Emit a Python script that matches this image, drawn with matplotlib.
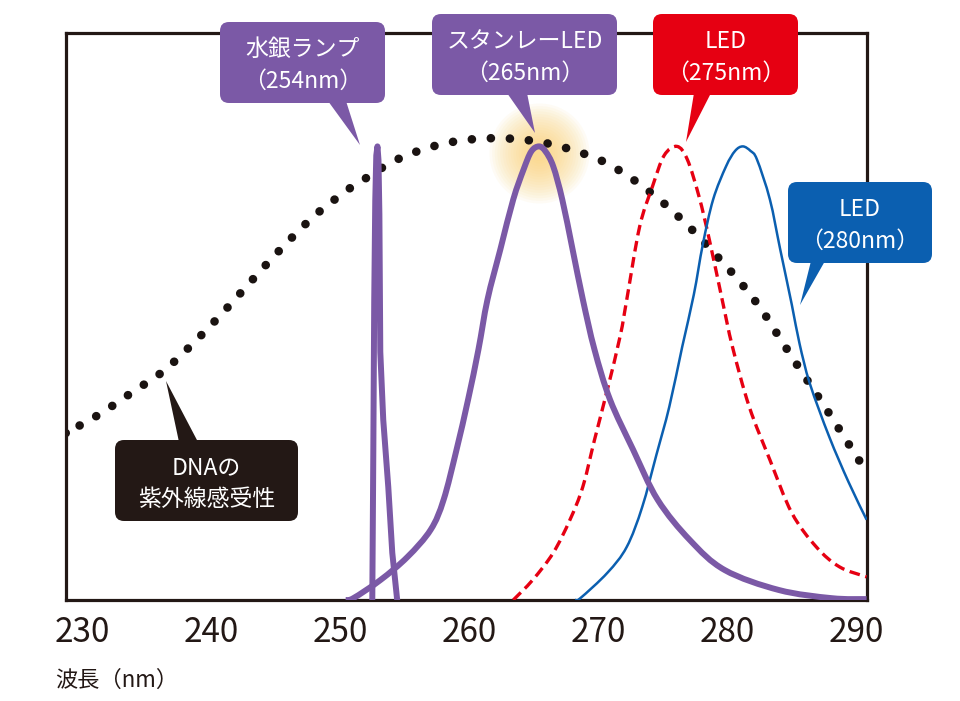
import matplotlib
matplotlib.use('Agg')
import numpy as np
import matplotlib.pyplot as plt
from matplotlib.patches import FancyBboxPatch, Polygon, PathPatch
from matplotlib.path import Path

plt.rcParams['font.family'] = ['Noto Sans CJK JP', 'DejaVu Sans']

# wavelength (nm) / relative value (%)
dna_wl = [228.7, 228.9, 231.4, 233.8, 236.2, 238.3, 240.3, 242.2, 244.1, 246.1, 248.1,
          250.4, 251.6, 254.1, 256.7, 259.4, 262.3, 265.2, 267.9, 270.5, 272.9, 275.1,
          277.1, 279.0, 280.9, 282.6, 284.1, 285.6, 287.1, 288.6, 290.1, 290.8]
dna_val = [36.8, 37.1, 41.1, 45.7, 50.3, 55.8, 61.6, 67.5, 73.5, 79.5, 85.0,
           90.1, 92.3, 96.7, 99.6, 101.3, 101.8, 101.1, 99.3, 96.5, 92.3, 87.4,
           82.1, 76.4, 70.4, 64.2, 57.6, 51.0, 44.6, 38.0, 31.3, 28.3]

hg_wl = [252.47, 252.55, 252.62, 252.70, 252.78, 252.87, 252.95, 253.02, 253.09, 253.32, 253.71, 254.02, 254.40]
hg_val = [0, 33, 66, 88, 98, 100, 97, 85, 54.7, 39.7, 24.9, 10.4, 0]

stanley_wl = [250.4, 251.0, 253.1, 255.2, 257.0, 258.0, 259.0, 259.9, 260.7, 261.4, 262.4, 263.4,
              264.2, 264.8, 265.4, 265.9, 266.5, 267.2, 268.0, 268.8, 269.7, 270.9, 272.7,
              274.6, 277.1, 279.8, 284.0, 288.1, 290.8]
stanley_val = [0, 0.4, 4.4, 9.5, 15.5, 22.1, 33.1, 44.2, 55.2, 66.2, 77.3, 88.3,
               94.9, 98.9, 100, 98.9, 95.6, 88.3, 77.3, 66.2, 55.2, 44.2, 33.1,
               22.1, 13.2, 6.6, 2.2, 0.4, 0.2]

led275_wl = [263.4, 264.9, 266.5, 267.8, 268.8, 269.7, 270.7, 271.7, 272.2, 273.2, 274.2, 275.1,
             276.1, 276.9, 277.8, 278.6, 279.6, 280.4, 281.7, 283.3, 285.0, 286.9, 288.7, 290.8]
led275_val = [0, 4.4, 10.4, 17.7, 25.0, 35.3, 46.4, 58.3, 66.2, 82.3, 91.2, 98.0,
              100, 97.1, 89.0, 79.5, 66.2, 55.8, 42.6, 30.9, 19.2, 11.7, 7.3, 5.1]

led280_wl = [268.2, 268.6, 270.7, 272.2, 273.4, 274.5, 275.5, 276.5, 277.4, 278.1, 278.9, 279.9,
             280.6, 281.2, 281.8, 282.3, 283.3, 284.1, 285.0, 285.6, 286.4, 287.9, 289.4, 290.8]
led280_val = [0, 0.4, 6.0, 11.7, 20.5, 32.0, 42.6, 55.8, 67.3, 78.4, 88.3, 95.6,
              99.0, 100, 99.0, 97.1, 88.3, 77.3, 65.1, 56.5, 47.7, 36.0, 26.0, 17.7]

ticks = [230, 240, 250, 260, 270, 280, 290]

PURPLE = '#7b59a6'
RED = '#e60012'
BLUE = '#0b5fb0'
DARK = '#231815'


def smooth_path(xs, ys):
    # Catmull-Rom through the read points, drawn as cubic Bezier segments
    p = np.column_stack([xs, ys]).astype(float)
    p = np.vstack([p[0], p, p[-1]])
    verts = [tuple(p[1])]
    codes = [Path.MOVETO]
    for i in range(1, len(p) - 2):
        c1 = p[i] + (p[i + 1] - p[i - 1]) / 6
        c2 = p[i + 1] - (p[i + 2] - p[i]) / 6
        verts += [tuple(c1), tuple(c2), tuple(p[i + 1])]
        codes += [Path.CURVE4] * 3
    return Path(verts, codes)


W, H = 960, 701
fig = plt.figure(figsize=(W / 100, H / 100), dpi=100)
ax = fig.add_axes([66 / W, (H - 600) / H, (867 - 66) / W, (600 - 33) / H])
ax.set_xlim(228.72, 290.83)
ax.set_ylim(0, 125)

# glow behind the Stanley peak
pk = int(np.argmax(stanley_val))
for d in np.linspace(100, 15, 17):
    ax.scatter([stanley_wl[pk]], [stanley_val[pk] - 1.5], s=(d * 0.72) ** 2, color='#fbcf6a',
               alpha=0.065, linewidths=0, zorder=1)

dna = PathPatch(smooth_path(dna_wl, dna_val), fill=False, ec='#1a1311', lw=6.2,
                linestyle=(0, (0.01, 2.2)), capstyle='round', zorder=2)
ax.add_patch(dna)
ax.plot(hg_wl, hg_val, color=PURPLE, lw=4.3, solid_joinstyle='round', zorder=4)
ax.add_patch(PathPatch(smooth_path(stanley_wl, stanley_val), fill=False, ec=PURPLE,
                       lw=4.3, joinstyle='round', zorder=4))
ax.add_patch(PathPatch(smooth_path(led275_wl, led275_val), fill=False, ec=RED,
                       lw=2.4, linestyle=(0, (3.2, 1.7)), zorder=3))
ax.add_patch(PathPatch(smooth_path(led280_wl, led280_val), fill=False, ec=BLUE,
                       lw=1.8, zorder=3))

ax.set_xticks(ticks)
ax.set_xticklabels([str(t) for t in ticks], fontsize=24, color=DARK)
ax.tick_params(axis='x', length=0, pad=11)
ax.set_yticks([])
for s in ax.spines.values():
    s.set_linewidth(2.3)
    s.set_color(DARK)

fig.text(55 / W, 1 - 680 / H, '波長（nm）', fontsize=16, color=DARK, va='center', ha='left')

# callouts drawn in pixel space on an overlay
ov = fig.add_axes([0, 0, 1, 1], zorder=10)
ov.set_xlim(0, W)
ov.set_ylim(H, 0)
ov.axis('off')


def callout(x0, y0, x1, y1, base, tip, lines, color, fs=16.5):
    ov.add_patch(FancyBboxPatch((x0, y0), x1 - x0, y1 - y0,
                                boxstyle='round,pad=0,rounding_size=9',
                                fc=color, ec='none'))
    ov.add_patch(Polygon([base[0], base[1], tip], closed=True, fc=color, ec='none'))
    cx = (x0 + x1) / 2
    cy = (y0 + y1) / 2 + 3
    for i, t in enumerate(lines):
        ov.text(cx, cy + (i - 0.5) * 32, t, color='white', fontsize=fs,
                ha='center', va='center')


callout(220, 22, 385, 103, [(328, 101), (346, 101)], (360, 145),
        ['水銀ランプ', '（254nm）'], PURPLE)
callout(432, 14, 617, 95, [(507, 93), (527, 93)], (535, 133),
        ['スタンレーLED', '（265nm）'], PURPLE)
callout(653, 14, 798, 95, [(694, 93), (711, 93)], (686, 142),
        ['LED', '（275nm）'], RED)
callout(788, 182, 932, 263, [(811, 261), (825, 261)], (800, 305),
        ['LED', '（280nm）'], BLUE)
callout(115, 440, 298, 521, [(179, 442), (198, 442)], (166, 381),
        ['DNAの', '紫外線感受性'], DARK)

fig.savefig('out.png', dpi=100)
